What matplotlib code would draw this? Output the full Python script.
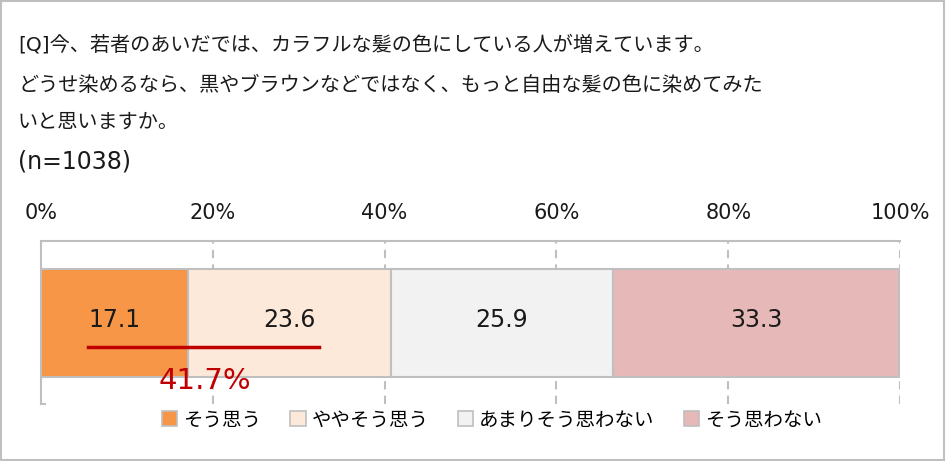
import numpy as np
import matplotlib.pyplot as plt
from matplotlib.patches import Patch, Rectangle

plt.rcParams['font.family'] = ['DejaVu Sans', 'Noto Sans CJK JP']

title_lines = [
    "[Q]今、若者のあいだでは、カラフルな髪の色にしている人が増えています。",
    "どうせ染めるなら、黒やブラウンなどではなく、もっと自由な髪の色に染めてみた",
    "いと思いますか。",
]
n_label = "(n=1038)"
categories = ["そう思う", "ややそう思う", "あまりそう思わない", "そう思わない"]
values = [17.1, 23.6, 25.9, 33.3]
colors = ["#F79646", "#FDE9D9", "#F2F2F2", "#E6B9B8"]
top2_label = "41.7%"
ticks = [0, 20, 40, 60, 80, 100]

fig = plt.figure(figsize=(9.46, 4.61), dpi=100)
W, H = 946, 461

# outer frame
fig.patches.append(Rectangle((0.001, 0.002), 0.997, 0.995, transform=fig.transFigure,
                             fill=False, edgecolor="#BFBFBF", linewidth=1.5))

title_y = [45, 85, 122]
for line, yy in zip(title_lines, title_y):
    fig.text(18 / W, 1 - yy / H, line, fontsize=14.5, va="center", ha="left", color="#1a1a1a")
fig.text(18 / W, 1 - 162 / H, n_label, fontsize=17, va="center", ha="left", color="#1a1a1a")

ax = fig.add_axes([41 / W, 1 - 404 / H, (900 - 41) / W, (404 - 241) / H])
ax.set_xlim(0, 100)
ax.set_ylim(-1, 1)
bar_h = 2 * 108 / 163

left = 0
for v, c in zip(values, colors):
    ax.barh(0, v, left=left, height=bar_h, color=c, edgecolor="#BFBFBF", linewidth=1.5, zorder=3)
    ax.text(left + v / 2, 0.03, f"{v:.1f}", ha="center", va="center", fontsize=17, color="#1a1a1a", zorder=4)
    left += v

# bracket line for top-2
c1 = values[0] / 2
c2 = values[0] + values[1] / 2
ax.plot([c1 - 3.1, c2 + 3.5], [-0.3, -0.3], color="#C00000", linewidth=2.5, zorder=5)
ax.text((c1 + c2) / 2 + 0.3, -0.72, top2_label, ha="center", va="center", fontsize=21, color="#C00000", zorder=5)

ax.set_xticks(ticks)
ax.set_xticklabels([f"{t}%" for t in ticks], fontsize=15, color="#1a1a1a")
ax.xaxis.tick_top()
ax.tick_params(axis="x", length=0, pad=13)
ax.set_yticks([])
for t in ticks[1:]:
    ax.axvline(t, color="#BFBFBF", linestyle=(0, (4, 3)), linewidth=1.5, zorder=1)
for s in ["right", "bottom"]:
    ax.spines[s].set_visible(False)
for s in ["top", "left"]:
    ax.spines[s].set_color("#BFBFBF")
    ax.spines[s].set_linewidth(1.5)
ax.plot([0, 0.5], [-1, -1], color="#BFBFBF", linewidth=1.5, clip_on=False)

handles = [Patch(facecolor=c, edgecolor="#BFBFBF", linewidth=1.2) for c in colors]
fig.legend(handles, categories, loc="center", bbox_to_anchor=(492 / W, 1 - 420 / H), ncol=4,
           frameon=False, fontsize=14, handlelength=0.8, handleheight=0.8, handletextpad=0.3,
           columnspacing=1.5)

fig.savefig("out.png", dpi=100)
